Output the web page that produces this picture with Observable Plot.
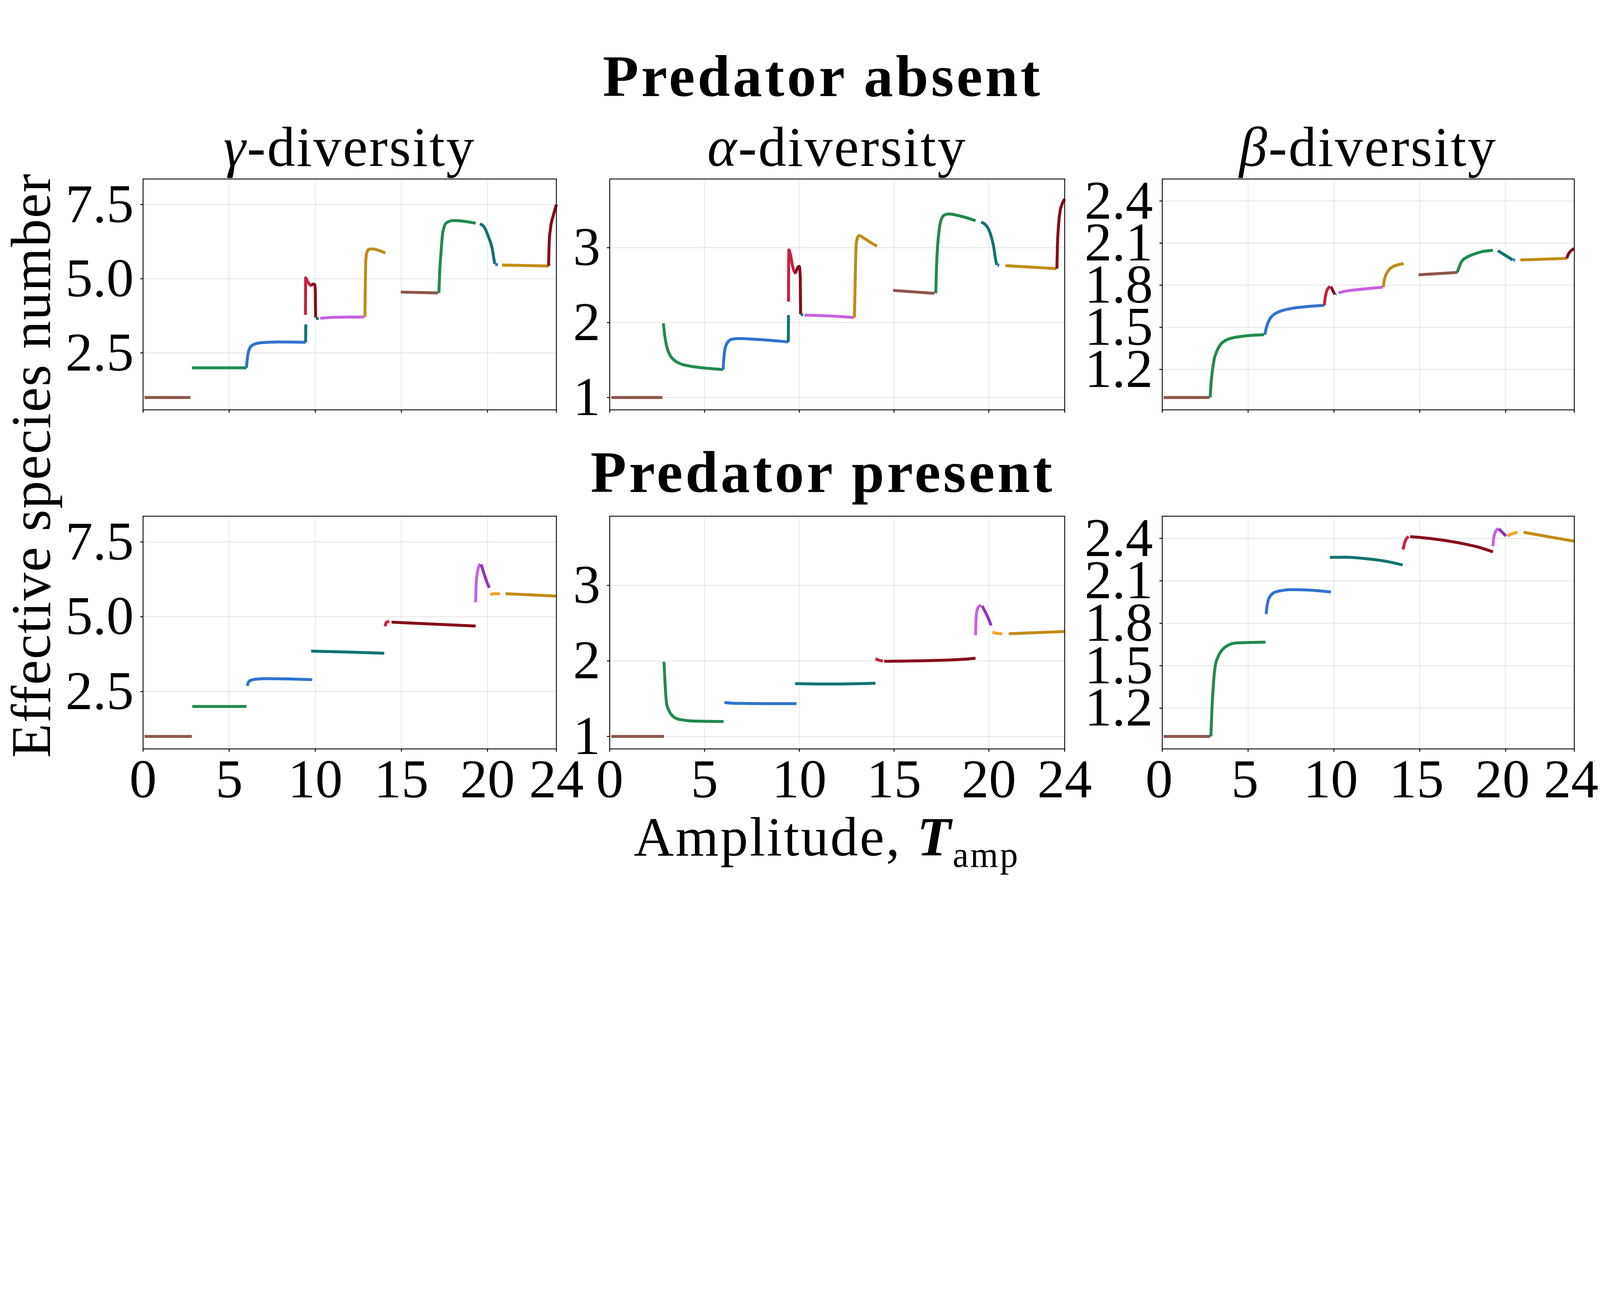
<!DOCTYPE html>
<html><head><meta charset="utf-8">
<script src="https://cdn.jsdelivr.net/npm/d3@7"></script>
<script src="https://cdn.jsdelivr.net/npm/@observablehq/plot@0.6"></script>
<style>
html,body{margin:0;padding:0;background:#fff;overflow:hidden;}
#wrap{position:relative;overflow:hidden;background:#fff;width:6000px;height:3360px;}
#fig{position:absolute;left:0;top:0;width:6000px;height:3360px;overflow:hidden;background:#fff;transform-origin:0 0;}
.panel{position:absolute;}
.panel svg{max-width:none !important;overflow:visible;}
#overlay{position:absolute;left:0;top:0;pointer-events:none;}
</style></head>
<body><div id="wrap"><div id="fig"></div></div>
<script>
// ---------- data (x = amplitude, y = effective species number) ----------
const xTicks = [0, 5, 10, 15, 20, 24];
const gammaTicks = [2.5, 5.0, 7.5];
const alphaTicks = [1, 2, 3];
const betaTicks = [1.2, 1.5, 1.8, 2.1, 2.4];
const gammaDomain = [0.583, 8.36];
const alphaDomain = [0.835, 3.917];
const betaDomain = [0.912, 2.557];

const stateKeys = ["S-brown","S-green","S-blue","S-teal","S-crimson","S-darkred","S-violet","S-gold","S-orange","S-purple"];
const stateColors = ["#8c564b","#218a4e","#3172cf","#127272","#c8203f","#880a1a","#c662e2","#c08c14","#f6a028","#9232bb"];

const gammaAbsent = [
  ["S-brown", [[0.08,1.0],[2.75,1.0]]],
  ["S-green", [[2.84,2.0],[6.0,2.0]]],
  ["S-blue", [[6.0,2.0],[6.09,2.46],[6.26,2.72],[6.58,2.82],[7.0,2.85],[7.85,2.87],[9.44,2.86]]],
  ["S-teal", [[9.44,2.86],[9.45,3.46]]],
  ["S-crimson", [[9.43,3.78],[9.44,5.03],[9.55,4.9],[9.79,4.75]]],
  ["S-darkred", [[9.76,4.77],[9.88,4.82],[9.97,4.80],[10.0,4.6],[10.02,3.69]]],
  ["S-teal", [[10.04,3.66],[10.2,3.66]]],
  ["S-violet", [[10.29,3.67],[11.0,3.70],[12.0,3.71],[12.84,3.71]]],
  ["S-gold", [[12.88,3.71],[12.9,4.6],[12.93,5.6],[13.0,5.9],[13.15,6.0],[13.35,6.0],[13.7,5.95],[14.07,5.87]]],
  ["S-brown", [[14.96,4.55],[17.12,4.52]]],
  ["S-green", [[17.18,4.52],[17.22,5.2],[17.29,5.8],[17.4,6.55],[17.61,6.88],[18.04,6.96],[18.7,6.93],[19.31,6.87]]],
  ["S-teal", [[19.56,6.85],[19.84,6.71],[20.05,6.42],[20.27,6.02],[20.37,5.67],[20.42,5.50]]],
  ["S-blue", [[20.45,5.48],[20.6,5.47]]],
  ["S-gold", [[20.84,5.46],[23.55,5.43]]],
  ["S-darkred", [[23.55,5.43],[23.58,6.2],[23.66,6.71],[23.81,7.11],[24.0,7.5]]]
];

const alphaAbsent = [
  ["S-brown", [[0.08,1.0],[2.78,1.0]]],
  ["S-green", [[2.83,1.99],[2.9,1.83],[2.98,1.71],[3.08,1.62],[3.2,1.555],[3.37,1.505],[3.71,1.453],[4.22,1.419],[4.91,1.396],[5.98,1.373]]],
  ["S-blue", [[5.98,1.373],[6.03,1.555],[6.1,1.67],[6.23,1.74],[6.44,1.778],[6.78,1.787],[7.63,1.778],[9.42,1.742]]],
  ["S-teal", [[9.42,1.742],[9.43,2.10]]],
  ["S-crimson", [[9.43,2.28],[9.45,2.97],[9.54,2.9],[9.64,2.76],[9.76,2.67],[9.81,2.65]]],
  ["S-darkred", [[9.8,2.66],[9.93,2.74],[10.0,2.75],[10.05,2.6],[10.07,2.11]]],
  ["S-teal", [[10.08,2.11],[10.2,2.10]]],
  ["S-violet", [[10.27,2.10],[11.5,2.09],[12.88,2.067]]],
  ["S-gold", [[12.91,2.067],[12.95,2.58],[13.0,3.03],[13.08,3.14],[13.17,3.16],[13.42,3.125],[13.76,3.07],[14.1,3.02]]],
  ["S-brown", [[14.95,2.43],[17.13,2.39]]],
  ["S-green", [[17.2,2.39],[17.24,2.75],[17.3,3.03],[17.39,3.26],[17.51,3.39],[17.68,3.44],[17.88,3.45],[18.53,3.42],[19.3,3.36]]],
  ["S-teal", [[19.59,3.34],[19.81,3.31],[19.98,3.25],[20.15,3.125],[20.27,2.99],[20.35,2.85],[20.42,2.77]]],
  ["S-blue", [[20.45,2.77],[20.55,2.765]]],
  ["S-gold", [[20.88,2.76],[23.56,2.72]]],
  ["S-darkred", [[23.59,2.72],[23.62,3.03],[23.68,3.31],[23.76,3.49],[23.86,3.58],[24.0,3.65]]]
];

const betaAbsent = [
  ["S-brown", [[0.08,1.0],[2.75,1.0]]],
  ["S-green", [[2.79,1.0],[2.85,1.114],[2.93,1.2],[3.02,1.27],[3.18,1.33],[3.37,1.374],[3.66,1.405],[4.04,1.423],[4.72,1.437],[5.93,1.447]]],
  ["S-blue", [[5.97,1.447],[6.07,1.50],[6.22,1.55],[6.45,1.586],[6.84,1.613],[7.42,1.632],[8.38,1.647],[9.44,1.657]]],
  ["S-crimson", [[9.44,1.657],[9.5,1.72],[9.57,1.756],[9.69,1.782],[9.78,1.792]]],
  ["S-darkred", [[9.82,1.79],[9.96,1.756],[10.05,1.734]]],
  ["S-teal", [[10.07,1.735],[10.12,1.74]]],
  ["S-violet", [[10.27,1.746],[10.69,1.758],[11.65,1.772],[12.85,1.786]]],
  ["S-gold", [[12.87,1.786],[12.94,1.84],[13.04,1.877],[13.23,1.913],[13.48,1.935],[13.77,1.947],[14.06,1.953]]],
  ["S-brown", [[14.93,1.874],[17.18,1.891]]],
  ["S-green", [[17.18,1.891],[17.28,1.925],[17.43,1.968],[17.72,1.998],[18.1,2.019],[18.59,2.038],[19.26,2.049]]],
  ["S-teal", [[19.55,2.046],[19.97,2.014],[20.41,1.98]]],
  ["S-blue", [[20.43,1.98],[20.55,1.98]]],
  ["S-gold", [[20.86,1.98],[23.56,1.991]]],
  ["S-darkred", [[23.56,1.991],[23.65,2.02],[23.8,2.045],[24.0,2.061]]]
];

const gammaPresent = [
  ["S-brown", [[0.08,1.0],[2.83,1.0]]],
  ["S-green", [[2.86,2.0],[6.0,2.0]]],
  ["S-blue", [[6.05,2.69],[6.11,2.80],[6.26,2.875],[6.58,2.915],[7.21,2.93],[8.49,2.92],[9.82,2.90]]],
  ["S-teal", [[9.76,3.85],[12.0,3.82],[14.0,3.78]]],
  ["S-crimson", [[14.05,4.68],[14.1,4.78],[14.18,4.83],[14.3,4.84]]],
  ["S-darkred", [[14.43,4.82],[19.31,4.69]]],
  ["S-violet", [[19.31,5.48],[19.33,5.95],[19.37,6.29],[19.44,6.57],[19.52,6.71],[19.58,6.76]]],
  ["S-purple", [[19.63,6.75],[19.77,6.49],[19.95,6.18],[20.1,5.97]]],
  ["S-orange", [[20.16,5.74],[20.4,5.77],[20.73,5.77]]],
  ["S-gold", [[21.05,5.77],[24.0,5.69]]]
];

const alphaPresent = [
  ["S-brown", [[0.08,1.0],[2.86,1.0]]],
  ["S-green", [[2.86,1.99],[2.9,1.795],[2.95,1.57],[3.0,1.435],[3.12,1.345],[3.29,1.277],[3.54,1.236],[3.97,1.214],[4.56,1.203],[6.01,1.198]]],
  ["S-blue", [[6.05,1.45],[6.5,1.44],[8.3,1.435],[9.85,1.435]]],
  ["S-teal", [[9.78,1.70],[11.7,1.694],[14.02,1.705]]],
  ["S-crimson", [[14.02,2.03],[14.2,2.01],[14.41,1.998]]],
  ["S-darkred", [[14.48,1.996],[16.83,2.005],[18.53,2.02],[19.3,2.036]]],
  ["S-violet", [[19.3,2.34],[19.32,2.52],[19.35,2.63],[19.42,2.70],[19.52,2.73],[19.59,2.74]]],
  ["S-purple", [[19.64,2.73],[19.81,2.65],[19.98,2.56],[20.12,2.47]]],
  ["S-orange", [[20.19,2.38],[20.45,2.365],[20.71,2.36]]],
  ["S-gold", [[21.05,2.36],[24.0,2.39]]]
];

const betaPresent = [
  ["S-brown", [[0.08,1.0],[2.79,1.0]]],
  ["S-green", [[2.83,1.0],[2.89,1.183],[2.99,1.387],[3.08,1.495],[3.22,1.555],[3.47,1.609],[3.76,1.639],[4.33,1.661],[6.01,1.667]]],
  ["S-blue", [[6.05,1.865],[6.11,1.927],[6.26,1.987],[6.64,2.023],[7.61,2.038],[8.76,2.033],[9.82,2.021]]],
  ["S-teal", [[9.77,2.266],[10.69,2.267],[11.85,2.257],[13.0,2.239],[14.0,2.212]]],
  ["S-crimson", [[14.02,2.321],[14.08,2.35],[14.16,2.383],[14.35,2.413]]],
  ["S-darkred", [[14.44,2.413],[15.5,2.401],[17.43,2.365],[18.39,2.339],[19.26,2.305]]],
  ["S-violet", [[19.26,2.345],[19.3,2.395],[19.36,2.431],[19.45,2.455],[19.59,2.47]]],
  ["S-purple", [[19.6,2.468],[20.03,2.417]]],
  ["S-orange", [[20.12,2.417],[20.32,2.43],[20.7,2.443]]],
  ["S-gold", [[21.05,2.443],[24.0,2.38]]]
];

// ---------- layout (in a 6000 x 3360 design space) ----------
const FONT = "'Liberation Serif', 'Times New Roman', serif";
const colBounds = [[536, 2086], [2286, 3992], [4358, 5903]];
const rowBounds = [[671, 1537], [1936, 2809]];
const ML = 330, MR = 40, MT = 30, MB = 250;

const fmt1 = d3.format(".1f");
const metrics = [
  {domain: gammaDomain, ticks: gammaTicks, fmt: fmt1},
  {domain: alphaDomain, ticks: alphaTicks, fmt: d3.format("d")},
  {domain: betaDomain, ticks: betaTicks, fmt: fmt1}
];
const panels = [
  [gammaAbsent, alphaAbsent, betaAbsent],
  [gammaPresent, alphaPresent, betaPresent]
];

function rowsOf(segs) {
  const out = [];
  segs.forEach(([k, pts], i) => pts.forEach(([x, y]) => out.push({seg: i, k, x, y})));
  return out;
}

// Fit the 6000 x 3360 design into whatever viewport the browser really has.
const wrap = document.getElementById("wrap");
const fig = document.getElementById("fig");
function fitPage() {
  const vw = window.innerWidth || document.documentElement.clientWidth || 6000;
  const vh = window.innerHeight || document.documentElement.clientHeight || 3360;
  let s = Math.min(vw / 6000, vh / 3360);
  if (!(s > 0)) s = 1;
  fig.style.transform = Math.abs(s - 1) > 1e-3 ? `scale(${s})` : "none";
  wrap.style.width = (6000 * s) + "px";
  wrap.style.height = (3360 * s) + "px";
}
fitPage();
window.addEventListener("resize", fitPage);

panels.forEach((rowPanels, r) => {
  rowPanels.forEach((segs, c) => {
    const [x0, x1] = colBounds[c];
    const [y0, y1] = rowBounds[r];
    const W = x1 - x0, H = y1 - y0;
    const m = metrics[c];
    const bottom = r === 1;
    const marks = [
      Plot.gridX(xTicks, {stroke: "#000", strokeOpacity: 0.1, strokeWidth: 2.5}),
      Plot.gridY(m.ticks, {stroke: "#000", strokeOpacity: 0.12, strokeWidth: 2.5}),
      Plot.line(rowsOf(segs), {x: "x", y: "y", z: "seg", stroke: "k", strokeWidth: 11,
        strokeLinecap: "butt", strokeLinejoin: "round", curve: "monotone-x"}),
      Plot.frame({stroke: "#111", strokeWidth: 3.5}),
      // x tick marks
      Plot.axisX(xTicks, {anchor: "bottom", tickSize: 11, strokeWidth: 3.5, label: null, tickFormat: () => ""}),
      Plot.axisY(m.ticks, {anchor: "left", tickSize: 10, tickPadding: 25, strokeWidth: 3.5, label: null,
        tickFormat: m.fmt})
    ];
    if (bottom) {
      // x tick labels (nudged left in the last column so "24" stays inside the figure)
      marks.push(Plot.axisX(xTicks, {anchor: "bottom", tickSize: 0, tickPadding: 36, label: null,
        dx: c === 2 ? -12 : 0, tickFormat: d => String(d)}));
    }
    const chart = Plot.plot({
      width: ML + W + MR,
      height: MT + H + MB,
      marginLeft: ML, marginRight: MR, marginTop: MT, marginBottom: MB,
      x: {domain: [0, 24]},
      y: {domain: m.domain},
      color: {type: "ordinal", domain: stateKeys, range: stateColors},
      style: {fontFamily: FONT, fontSize: "205px", background: "transparent", color: "#000", overflow: "visible"},
      marks
    });
    const div = document.createElement("div");
    div.className = "panel";
    div.style.left = (x0 - ML) + "px";
    div.style.top = (y0 - MT) + "px";
    div.style.width = (ML + W + MR) + "px";
    div.appendChild(chart);
    fig.appendChild(div);
  });
});

// ---------- titles and axis labels ----------
const svg = d3.select(fig).append("svg").attr("id", "overlay")
  .attr("width", 6000).attr("height", 3360)
  .style("font-family", FONT).style("fill", "#000");

function title(x, y, txt) {
  svg.append("text").attr("x", x).attr("y", y).attr("text-anchor", "middle")
    .style("font-size", "220px").style("font-weight", "bold").style("letter-spacing", "0.045em").text(txt);
}
title(3085, 360, "Predator absent");
title(3085, 1845, "Predator present");

const subNames = [["γ", "-diversity"], ["α", "-diversity"], ["β", "-diversity"]];
subNames.forEach(([g, rest], c) => {
  const cx = (colBounds[c][0] + colBounds[c][1]) / 2;
  const t = svg.append("text").attr("x", cx).attr("y", 622).attr("text-anchor", "middle")
    .style("font-size", "210px").style("letter-spacing", "0.025em");
  t.append("tspan").style("font-style", "italic").text(g);
  t.append("tspan").text(rest);
});

const xl = svg.append("text").attr("x", 3100).attr("y", 3210).attr("text-anchor", "middle")
  .style("font-size", "208px").style("letter-spacing", "0.03em");
xl.append("tspan").text("Amplitude, ");
xl.append("tspan").style("font-weight", "bold").style("font-style", "italic").text("T");
xl.append("tspan").attr("dy", 42).style("font-size", "135px").text("amp");

svg.append("text").attr("transform", "translate(188,1746) rotate(-90)").attr("text-anchor", "middle")
  .style("font-size", "210px").style("letter-spacing", "0.015em").text("Effective species number");
</script>
</body></html>
